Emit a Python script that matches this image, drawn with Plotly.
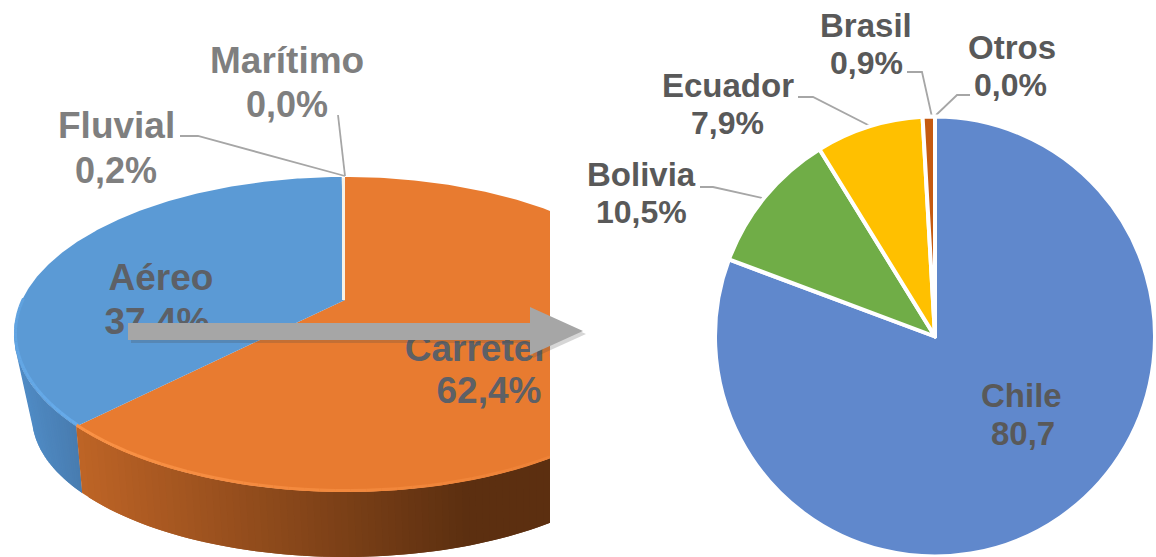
import numpy as np
import plotly.graph_objects as go

# ---------- data ----------
modes = ["Carretera", "Aéreo", "Fluvial", "Marítimo"]
mode_values = [62.4, 37.4, 0.2, 0.0]
mode_labels = ["62,4%", "37,4%", "0,2%", "0,0%"]
countries = ["Chile", "Bolivia", "Ecuador", "Brasil", "Otros"]
country_values = [80.7, 10.5, 7.9, 0.9, 0.0]
country_labels = ["80,7", "10,5%", "7,9%", "0,9%", "0,0%"]

# ---------- styles ----------
W, H = 1156, 557
ORANGE, BLUE = "#E87B30", "#5B9AD5"
country_colors = ["#6088CC", "#70AD47", "#FFC000", "#C55A11", "#A5A5A5"]
FONT = "Liberation Sans"
LEFT_GREY, IN_GREY, RIGHT_GREY = "#7F7F7F", "#5D6066", "#595959"
CLIP_X = 550

# ---------- perspective geometry of the left pie ----------
CX, APEX_Y, K, A, B = 345.0, 300.0, 0.219, 150.0, 323.0
TOP_CY, TOP_RX, TOP_RY = 334.5, 331.0, 157.5
BOT_CY, BOT_RX, BOT_RY = 417.0, 313.0, 140.0


def rim(frac):
    """Position on the top face for a clockwise fraction of the pie."""
    t = np.asarray(frac) * 2 * np.pi
    u, v = np.sin(t), np.cos(t)
    d = 1 + K * v
    return CX + B * u / d, APEX_Y - A * v / d


def sector(f0, f1):
    f = np.linspace(f0, f1, 240)
    x, y = rim(f)
    return np.r_[CX, x, CX], np.r_[APEX_Y, y, APEX_Y]


def y_top(x):
    return TOP_CY + TOP_RY * np.sqrt(np.clip(1 - ((x - CX) / TOP_RX) ** 2, 0, 1))


def y_bot(x):
    return BOT_CY + BOT_RY * np.sqrt(np.clip(1 - ((x - CX) / BOT_RX) ** 2, 0, 1))


def mix(c0, c1, t):
    return "rgb(%d,%d,%d)" % tuple(round(a + (b - a) * t) for a, b in zip(c0, c1))


fig = go.Figure()


def poly(x, y, color):
    fig.add_trace(go.Scatter(x=x, y=y, mode="lines", fill="toself", fillcolor=color,
                             line=dict(color=color, width=0), hoverinfo="skip", showlegend=False))


def line(x, y, color, width):
    fig.add_trace(go.Scatter(x=x, y=y, mode="lines", line=dict(color=color, width=width),
                             hoverinfo="skip", showlegend=False))


def text(x, y, s, color, size):
    fig.add_trace(go.Scatter(x=[x], y=[y], mode="text", text=[s], textposition="middle center",
                             textfont=dict(family=FONT, size=size, color=color, weight="bold"),
                             hoverinfo="skip", showlegend=False))


def wall(xa_from, xa_to, xb_from, xb_to, n, shade):
    """Side wall as overlapping strips: each one paints over the seam of the one before."""
    for i in range(n):
        t0, t1 = i / n, min((i + 2) / n, 1.0)
        ts = np.linspace(t0, t1, 4)
        xa = xa_from + ts * (xa_to - xa_from)
        xb = xb_from + ts * (xb_to - xb_from)
        poly(np.r_[xa, xb[::-1], xa[0]], np.r_[y_top(xa), y_bot(xb)[::-1], y_top(xa[0])], shade((i + 0.5) / n))


fracs = np.cumsum(mode_values) / sum(mode_values)
f_road, f_air, f_river = fracs[0], fracs[1], fracs[2]
x_b = float(rim(f_road)[0])
BOT_BREAK = x_b + 6

wall(14, x_b, 32, BOT_BREAK, 24, lambda t: mix((80, 140, 198), (72, 124, 176), t))
wall(x_b, CLIP_X, BOT_BREAK, CLIP_X, 70, lambda t: mix((190, 100, 38), (92, 47, 16), min(t / 0.82, 1)))

# top face
sx, sy = sector(0, f_road)
poly(np.minimum(sx, CLIP_X), sy, ORANGE)
sx, sy = sector(f_road, f_air)
poly(sx, sy, BLUE)

# bevel highlight along the front edge
f = np.linspace(f_road, 0.75, 30)
for i in range(len(f) - 1):
    x, y = rim(f[i:i + 2])
    line(x + 1.5, y - 1.5, mix((104, 174, 238), (91, 154, 213), 0.15 + 0.5 * i / 30), 3)
f = np.linspace(f_road, 0.33, 50)
for i in range(len(f) - 1):
    x, y = rim(f[i:i + 2])
    if x.max() < CLIP_X:
        line(x + 0.5, y - 1.5, mix((250, 146, 70), (232, 123, 48), i / 49), 3)

# white seam where the tiny Fluvial slice sits
x, y = rim(np.array([f_river, f_river]))
line([CX - 1.5, x[0] - 1.5], [APEX_Y, y[0] + 1], "#F6F1E6", 3)

# inside labels (below the arrow)
text(161, 281, modes[1], IN_GREY, 37)
text(157, 325, mode_labels[1], IN_GREY, 37)
text(487, 352, modes[0], IN_GREY, 37)
text(489, 394, mode_labels[0], IN_GREY, 37)

# the picture of the left pie is cut off here
poly([CLIP_X, 700, 700, CLIP_X, CLIP_X], [130, 130, H, H, 130], "#FFFFFF")

# arrow
ax = np.array([128, 530, 530, 583, 530, 530, 128, 128], float)
ay = np.array([323, 323, 307, 331, 355, 340, 340, 323], float)
poly(ax + 3, ay + 3, "rgba(70,70,70,0.22)")
poly(ax, ay, "#A6A6A6")

# leader lines
line([180, 198, 345], [136, 136, 176], "#A6A6A6", 1.8)
line([338, 345], [115, 176], "#A6A6A6", 1.8)
line([700, 713, 767], [187, 187, 199], "#A6A6A6", 1.8)
line([798, 813, 872], [97, 97, 127], "#A6A6A6", 1.8)
line([907, 922, 932], [72, 72, 117], "#A6A6A6", 1.8)
line([970, 957, 934], [95, 95, 117], "#A6A6A6", 1.8)

# right pie
fig.add_trace(go.Pie(labels=countries, values=country_values, sort=False, direction="clockwise",
                     rotation=0, textinfo="none", hoverinfo="label+percent", showlegend=False,
                     domain=dict(x=[715 / W, 1155 / W], y=[0.5 / H, 440.5 / H]),
                     marker=dict(colors=country_colors, line=dict(color="#FFFFFF", width=4))))

# outside labels
notes = [
    (287, 60, modes[3], LEFT_GREY, 37), (287, 104, mode_labels[3], LEFT_GREY, 36),
    (116, 125, modes[2], LEFT_GREY, 37), (116, 170, mode_labels[2], LEFT_GREY, 36),
    (866, 25, countries[3], RIGHT_GREY, 33), (866, 63, country_labels[3], RIGHT_GREY, 32),
    (1012, 47, countries[4], RIGHT_GREY, 33), (1010, 85, country_labels[4], RIGHT_GREY, 32),
    (728, 85, countries[2], RIGHT_GREY, 33), (727, 123, country_labels[2], RIGHT_GREY, 32),
    (641, 174, countries[1], RIGHT_GREY, 33), (641, 212, country_labels[1], RIGHT_GREY, 32),
    (1021, 395, countries[0], RIGHT_GREY, 33), (1023, 433, country_labels[0], RIGHT_GREY, 33),
]
for nx, ny, s, c, size in notes:
    fig.add_annotation(x=nx, y=ny, text="<b>%s</b>" % s, showarrow=False, xanchor="center", yanchor="middle",
                       font=dict(family=FONT, size=size, color=c))

fig.update_layout(
    width=W, height=H, margin=dict(l=0, r=0, t=0, b=0), paper_bgcolor="white", plot_bgcolor="white",
    xaxis=dict(range=[0, W], visible=False, domain=[0, 1], fixedrange=True),
    yaxis=dict(range=[H, 0], visible=False, domain=[0, 1], fixedrange=True),
    showlegend=False,
)
fig.write_html("out.html", config=dict(displayModeBar=False),
               post_script="document.body.style.margin='0';document.documentElement.style.overflow='hidden';")
